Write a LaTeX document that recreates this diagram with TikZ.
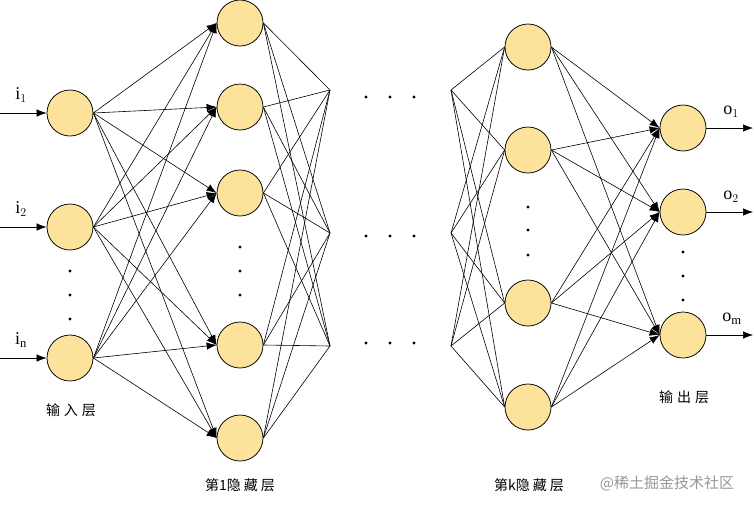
\documentclass[tikz,border=0pt]{standalone}
\usepackage{fontspec}
\setmainfont{Liberation Serif}
\newfontfamily\cjk{Noto Sans CJK SC}
\usetikzlibrary{arrows.meta}
\definecolor{nodefill}{RGB}{252,226,155}
\definecolor{wmgrey}{RGB}{150,150,150}
\begin{document}
\begin{tikzpicture}[x=1pt,y=-1pt,
  neuron/.style={circle,draw=black,fill=nodefill,minimum size=46pt,inner sep=0pt,line width=0.75pt},
  link/.style={line width=0.6pt},
  arr/.style={line width=0.6pt,-{Latex[length=10pt,width=7.5pt]}},
  dotn/.style={circle,fill=black,inner sep=0pt,minimum size=3.2pt},
  lab/.style={font=\cjk\fontsize{14}{14}\selectfont},
  ilab/.style={font=\fontsize{18}{18}\selectfont}]
\useasboundingbox (0,0) rectangle (754,504);

% input layer
\node[neuron] (I1) at (70,113) {};
\node[neuron] (I2) at (70,227) {};
\node[neuron] (I3) at (70,358) {};
% hidden layer 1
\node[neuron] (H1) at (240,23) {};
\node[neuron] (H2) at (240,107) {};
\node[neuron] (H3) at (240,193) {};
\node[neuron] (H4) at (240,345) {};
\node[neuron] (H5) at (240,438) {};
% hidden layer k
\node[neuron] (K1) at (528,47) {};
\node[neuron] (K2) at (528,150) {};
\node[neuron] (K3) at (528,303) {};
\node[neuron] (K4) at (528,407) {};
% output layer
\node[neuron] (O1) at (683,128) {};
\node[neuron] (O2) at (683,212) {};
\node[neuron] (O3) at (683,335) {};

% convergence / divergence points
\coordinate (C1) at (330,90);
\coordinate (C2) at (330,233);
\coordinate (C3) at (330,346);
\coordinate (D1) at (451,90);
\coordinate (D2) at (451,233);
\coordinate (D3) at (451,346);

% free ends
\coordinate (A1) at (0,113);
\coordinate (A2) at (0,227);
\coordinate (A3) at (0,358);
\coordinate (B1) at (753,128);
\coordinate (B2) at (753,212);
\coordinate (B3) at (753,335);

% input arrows
\foreach \i in {1,2,3} \draw[arr] (A\i) -- (I\i.west);
% output arrows
\foreach \i in {1,2,3} \draw[arr] (O\i.east) -- (B\i);

% input -> hidden 1
\foreach \i in {1,2,3}
  \foreach \j in {1,...,5}
    \draw[arr] (I\i.east) -- (H\j.west);
% hidden 1 -> convergence
\foreach \j in {1,...,5}
  \foreach \c in {1,2,3}
    \draw[link] (H\j.east) -- (C\c);
% divergence -> hidden k
\foreach \d in {1,2,3}
  \foreach \k in {1,...,4}
    \draw[link] (D\d) -- (K\k.west);
% hidden k -> output
\foreach \k in {1,...,4}
  \foreach \o in {1,2,3}
    \draw[arr] (K\k.east) -- (O\o.west);

% ellipsis dots
\foreach \y [count=\n] in {271,295,319} \node[dotn] (di\n) at (70,\y) {};
\foreach \y [count=\n] in {247,271,295} \node[dotn] (dh\n) at (240,\y) {};
\foreach \y [count=\n] in {207,230,255} \node[dotn] (dk\n) at (528,\y) {};
\foreach \y [count=\n] in {252,276,300} \node[dotn] (do\n) at (683,\y) {};
\foreach \x [count=\n] in {366,390,414} {
  \node[dotn] (da\n) at (\x,97) {};
  \node[dotn] (db\n) at (\x,236) {};
  \node[dotn] (dc\n) at (\x,343) {};
}

% labels
\node[ilab] (li1) at (21,95) {i$_1$};
\node[ilab] (li2) at (21,209) {i$_2$};
\node[ilab] (li3) at (21,340) {i$_\mathrm{n}$};
\node[ilab] (lo1) at (731,112) {o$_1$};
\node[ilab] (lo2) at (731,197) {o$_2$};
\node[ilab] (lo3) at (732,319) {o$_\mathrm{m}$};

\node[lab] (lin) at (71,410) {输\hspace{4pt}入\hspace{4pt}层};
\node[lab] (lh1) at (240,485) {第1隐\hspace{3pt}藏\hspace{3pt}层};
\node[lab] (lhk) at (529,485) {第k隐\hspace{3pt}藏\hspace{3pt}层};
\node[lab] (lout) at (684,397) {输\hspace{4pt}出\hspace{4pt}层};
\node[font=\cjk\fontsize{15}{15}\selectfont,text=wmgrey] (wm) at (667,483) {@稀土掘金技术社区};
\end{tikzpicture}
\end{document}
